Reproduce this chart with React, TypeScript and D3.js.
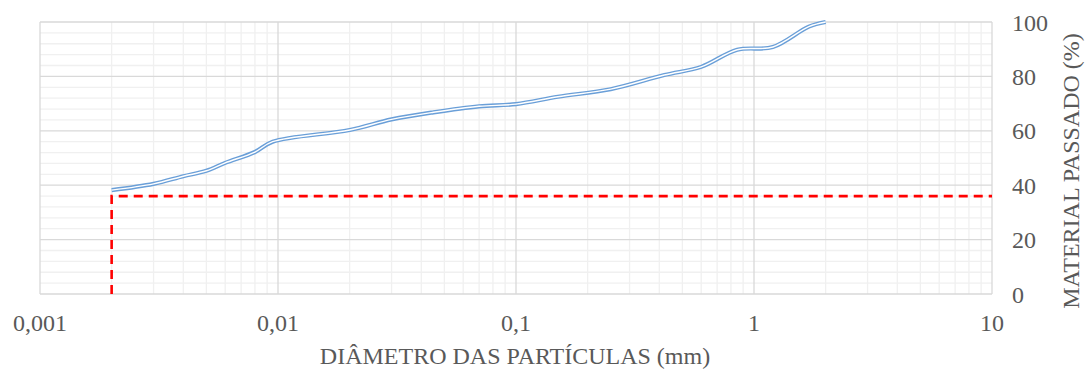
import React from "react";
import * as d3 from "d3";

const diameters = [0.002, 0.003, 0.004, 0.005, 0.006, 0.008, 0.0095, 0.02, 0.03, 0.045, 0.07, 0.1, 0.15, 0.25, 0.42, 0.6, 0.85, 1.2, 1.7, 2.0];
const passing = [38.2, 40.5, 43.3, 45.3, 48.2, 52.2, 56.0, 60.3, 64.2, 66.8, 69.0, 69.8, 72.5, 75.3, 80.5, 83.5, 89.8, 90.8, 98.3, 100];

const refX = [0.002, 0.002, 10];
const refY = [0, 36, 36];

const xTicks = [0.001, 0.01, 0.1, 1, 10];
const xTickLabels = ["0,001", "0,01", "0,1", "1", "10"];
const yTicks = [0, 20, 40, 60, 80, 100];

const W = 1085, H = 369;
const L = 40, R = 992, T = 22, B = 294;
const FONT = "\"Liberation Serif\", Tinos, \"Times New Roman\", serif";
const TXT = "#595959";
const FS = 24;

export default function App() {
  const x = d3.scaleLog().domain([0.001, 10]).range([L, R]);
  const y = d3.scaleLinear().domain([0, 100]).range([B, T]);

  const minorX: number[] = [];
  for (let e = -3; e < 1; e++) {
    for (let k = 2; k <= 9; k++) minorX.push(k * Math.pow(10, e));
  }
  const minorY: number[] = [];
  for (let v = 0; v <= 100; v += 4) if (v % 20 !== 0) minorY.push(v);

  const line = d3
    .line<number>()
    .x((_, i) => x(diameters[i]))
    .y((d) => y(d))
    .curve(d3.curveCatmullRom.alpha(0.5));
  const pathD = line(passing) || "";

  const refLine = d3
    .line<number>()
    .x((_, i) => x(refX[i]))
    .y((d) => y(d));
  const refD = refLine(refY) || "";

  const textStyle = { fontFamily: FONT };

  return (
    <svg width={W} height={H} style={{ position: "absolute", left: 0, top: 0, background: "#fff" }}>
      {minorY.map((v) => (
        <line key={"my" + v} x1={L} x2={R} y1={y(v)} y2={y(v)} stroke="#f0f0f0" strokeWidth={1.3} />
      ))}
      {minorX.map((v) => (
        <line key={"mx" + v} x1={x(v)} x2={x(v)} y1={T} y2={B} stroke="#f0f0f0" strokeWidth={1.3} />
      ))}
      {yTicks.map((v) => (
        <line key={"gy" + v} x1={L} x2={R} y1={y(v)} y2={y(v)} stroke="#d9d9d9" strokeWidth={1.3} />
      ))}
      {xTicks.map((v) => (
        <line key={"gx" + v} x1={x(v)} x2={x(v)} y1={T} y2={B} stroke="#d9d9d9" strokeWidth={1.3} />
      ))}

      <path d={refD} fill="none" stroke="#ff0000" strokeWidth={2.6} strokeDasharray="9,6" />

      <path d={pathD} fill="none" stroke="#6a9fd8" strokeWidth={4.2} strokeLinejoin="round" />
      <path d={pathD} fill="none" stroke="#ffffff" strokeWidth={1.4} strokeLinejoin="round" />

      {xTicks.map((v, i) => (
        <text key={"xl" + v} x={x(v)} y={331} textAnchor="middle" style={textStyle} fontSize={FS} fill={TXT}>
          {xTickLabels[i]}
        </text>
      ))}
      {yTicks.map((v) => (
        <text key={"yl" + v} x={1012} y={y(v) + 8.5} textAnchor="start" style={textStyle} fontSize={FS} fill={TXT}>
          {v}
        </text>
      ))}
      <text x={515} y={364} textAnchor="middle" style={textStyle} fontSize={FS} fill={TXT}>
        DIÂMETRO DAS PARTÍCULAS (mm)
      </text>
      <text
        transform={`translate(1079, 171) rotate(-90)`}
        textAnchor="middle"
        style={textStyle}
        fontSize={FS}
        fill={TXT}
      >
        MATERIAL PASSADO (%)
      </text>
    </svg>
  );
}
